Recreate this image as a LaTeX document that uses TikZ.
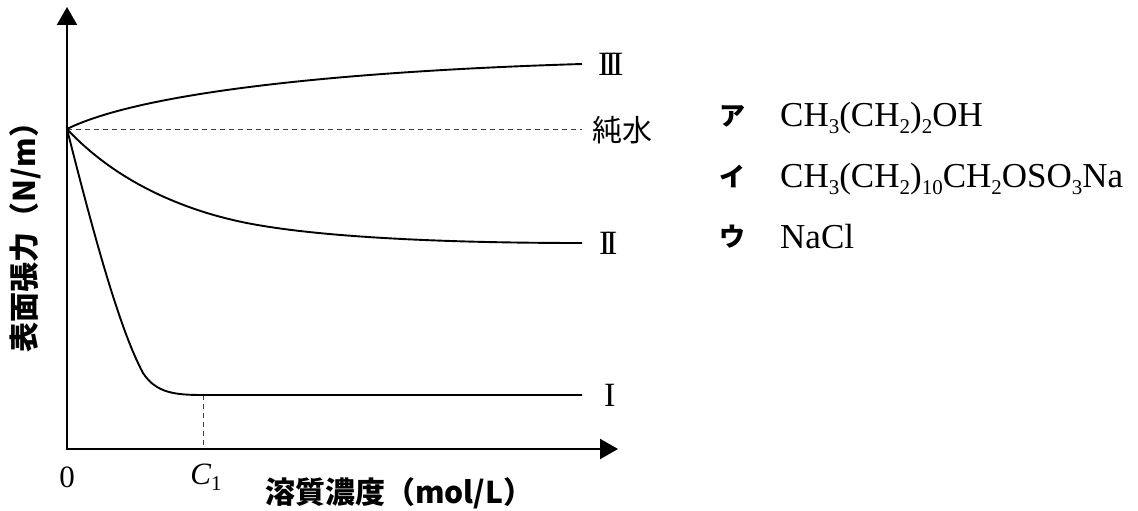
\documentclass[tikz,border=0pt]{standalone}
\usepackage{fontspec}
\setmainfont{Liberation Serif}
\newfontfamily\jp{Noto Sans CJK JP}
\usetikzlibrary{arrows.meta}
\tikzset{
  axisline/.style={line width=2.3pt, line join=miter, {Triangle[length=18pt,width=20pt]}-{Triangle[length=18pt,width=20pt]}},
  curve/.style={line width=1.9pt},
  guide/.style={line width=0.9pt, dash pattern=on 5pt off 4pt, black!75},
  gothic/.style={font=\jp\bfseries\fontsize{30}{30}\selectfont, inner sep=0pt},
  serif/.style={font=\fontsize{31}{31}\selectfont, inner sep=0pt},
  roman/.style={font=\fontsize{34}{34}\selectfont, inner sep=0pt, anchor=west},
  legendkey/.style={font=\jp\bfseries\fontsize{26}{26}\selectfont, inner sep=0pt, anchor=west},
  legendtext/.style={font=\fontsize{35}{35}\selectfont, inner sep=0pt, anchor=base west}
}
\newcommand{\rI}{I}
\newcommand{\rII}{I\kern-0.13emI}
\newcommand{\rIII}{I\kern-0.13emI\kern-0.13emI}
\newcommand{\sbs}[1]{\raisebox{-0.2em}{\fontsize{21}{21}\selectfont #1}}
\begin{document}
\begin{tikzpicture}[x=1pt,y=-1pt]
\useasboundingbox (0,0) rectangle (1138,511);
\coordinate (O) at (67,449);
\coordinate (Ytop) at (67,7);
\coordinate (Xend) at (618,449);
\coordinate (S) at (67,129);
\coordinate (E3) at (582,64);
\coordinate (EW) at (582,129);
\coordinate (E2) at (582,243);
\coordinate (E1) at (582,395);
\coordinate (M2) at (233,220);
\coordinate (M1a) at (143,373);
\coordinate (C1top) at (203,395);
\coordinate (C1bot) at (203,449);

\draw[axisline] (Ytop) -- (O) -- (Xend);

% pure water
\draw[guide] (S) -- (EW);
% C1 guide
\draw[guide] (C1top) -- (C1bot);

% curve III
\draw[curve] (S) .. controls (150,88) and (380,70) .. (E3);
% curve II
\draw[curve] (S) .. controls (120,186) and (190,210) .. (M2)
  .. controls (300,236) and (430,243) .. (E2);
% curve I
\draw[curve] (S) .. controls (95,240) and (120,330) .. (M1a)
  .. controls (156,393) and (175,395) .. (C1top) -- (E1);

% end labels
\node[roman] (lIII) at (598,64) {\rIII};
\node[font=\jp\fontsize{30}{30}\selectfont, inner sep=0pt, anchor=west] (lW) at (592,130) {純水};
\node[roman] (lII) at (599,243) {\rII};
\node[roman] (lI) at (604,395) {\rI};

% axis labels
\node[serif] (zero) at (67,477) {0};
\node[serif] (c1) at (206,477) {\textit{C}\sbs{1}};
\node[gothic, rotate=90] (ylab) at (25,230) {表面張力（N/m）};
\node[gothic, anchor=west] (xlab) at (265,493) {溶質濃度（mol/L）};

% legend
\node[legendkey] (ka) at (719,116) {ア};
\node[legendkey] (ki) at (719,176) {イ};
\node[legendkey] (ku) at (719,237) {ウ};
\node[legendtext] (fa) at (780,126) {CH\sbs{3}(CH\sbs{2})\sbs{2}OH};
\node[legendtext] (fi) at (780,187) {CH\sbs{3}(CH\sbs{2})\sbs{10}CH\sbs{2}OSO\sbs{3}Na};
\node[legendtext] (fu) at (780,248) {NaCl};
\end{tikzpicture}
\end{document}
